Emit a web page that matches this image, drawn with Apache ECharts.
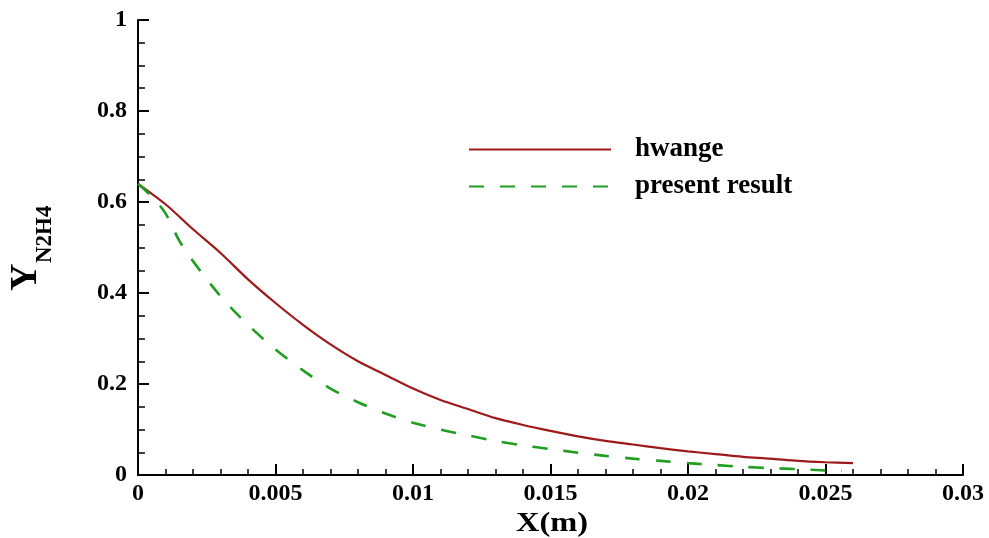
<!DOCTYPE html>
<html>
<head>
<meta charset="utf-8">
<script src="https://cdn.jsdelivr.net/npm/echarts@6/dist/echarts.min.js"></script>
<style>html,body{margin:0;padding:0;background:#fff}#c{width:989px;height:538px}</style>
</head>
<body>
<div id="c"></div>
<script>
var xHwange = [0, 0.001, 0.002, 0.003, 0.004, 0.005, 0.006, 0.007, 0.008, 0.009, 0.010, 0.011, 0.012, 0.013, 0.014, 0.015, 0.016, 0.017, 0.018, 0.019, 0.020, 0.021, 0.022, 0.023, 0.024, 0.025, 0.026];
var yHwange = [0.64, 0.595, 0.54, 0.488, 0.43, 0.378, 0.33, 0.287, 0.25, 0.22, 0.19, 0.165, 0.145, 0.125, 0.11, 0.097, 0.085, 0.075, 0.067, 0.059, 0.052, 0.046, 0.040, 0.036, 0.031, 0.028, 0.026];
var xPresent = [0, 0.0005, 0.001, 0.0015, 0.002, 0.003, 0.004, 0.005, 0.006, 0.007, 0.008, 0.009, 0.010, 0.011, 0.012, 0.013, 0.014, 0.015, 0.016, 0.017, 0.018, 0.019, 0.020, 0.021, 0.022, 0.023, 0.024, 0.025, 0.0256];
var yPresent = [0.64, 0.612, 0.575, 0.515, 0.47, 0.393, 0.33, 0.276, 0.23, 0.19, 0.16, 0.135, 0.115, 0.1, 0.087, 0.075, 0.065, 0.057, 0.049, 0.042, 0.036, 0.031, 0.026, 0.022, 0.018, 0.015, 0.013, 0.010, 0.009];
var seriesNames = ['hwange', 'present result'];
var xTickLabels = ['0', '0.005', '0.01', '0.015', '0.02', '0.025', '0.03'];
var yTickLabels = ['0', '0.2', '0.4', '0.6', '0.8', '1'];

function pairs(xs, ys) { return xs.map(function (x, i) { return [x, ys[i]]; }); }

var font = 'Liberation Serif';
var chart = echarts.init(document.getElementById('c'), null, { renderer: 'canvas' });
chart.setOption({
  animation: false,
  backgroundColor: '#ffffff',
  grid: { left: 138, right: 26, top: 20, bottom: 63, containLabel: false },
  legend: {
    left: 468, top: 136, orient: 'vertical', padding: 0,
    itemWidth: 142, itemHeight: 24, itemGap: 10,
    itemStyle: { opacity: 0, color: 'rgba(0,0,0,0)', borderWidth: 0 },
    textStyle: { fontFamily: font, fontWeight: 'bold', fontSize: 27, color: '#000', lineHeight: 24, height: 24, padding: [0, 0, 0, 19] },
    data: seriesNames
  },
  xAxis: {
    type: 'value', min: 0, max: 0.03, interval: 0.005,
    axisLine: { show: true, lineStyle: { color: '#000', width: 2 } },
    axisTick: { show: true, inside: true, length: 11, lineStyle: { color: '#000', width: 2 } },
    minorTick: { show: true, splitNumber: 5, length: 6, lineStyle: { color: '#000', width: 1.5 } },
    splitLine: { show: false },
    axisLabel: {
      margin: 7, fontFamily: font, fontWeight: 'bold', fontSize: 24, color: '#000',
      formatter: function (v) { return xTickLabels[Math.round(v / 0.005)]; }
    }
  },
  yAxis: {
    type: 'value', min: 0, max: 1, interval: 0.2,
    axisLine: { show: true, lineStyle: { color: '#000', width: 2 } },
    axisTick: { show: true, inside: true, length: 11, lineStyle: { color: '#000', width: 2 } },
    minorTick: { show: true, splitNumber: 4, length: 7, lineStyle: { color: '#000', width: 1.5 } },
    splitLine: { show: false },
    axisLabel: {
      margin: 11, fontFamily: font, fontWeight: 'bold', fontSize: 24, color: '#000',
      formatter: function (v) { return yTickLabels[Math.round(v / 0.2)]; }
    }
  },
  graphic: [
    {
      type: 'text', x: 552, y: 524, scaleX: 1.2,
      style: { text: 'X(m)', fontFamily: font, fontWeight: 'bold', fontSize: 27, fill: '#000', align: 'center', verticalAlign: 'middle' }
    },
    {
      type: 'text', x: 45, y: 291, rotation: Math.PI / 2,
      style: { text: 'Y', fontFamily: font, fontWeight: 'bold', fontSize: 38, lineHeight: 38, fill: '#000', align: 'left', verticalAlign: 'bottom' }
    },
    {
      type: 'text', x: 57, y: 263, rotation: Math.PI / 2,
      style: { text: 'N2H4', fontFamily: font, fontWeight: 'bold', fontSize: 23, lineHeight: 23, fill: '#000', align: 'left', verticalAlign: 'bottom' }
    }
  ],
  series: [
    {
      name: seriesNames[0], type: 'line', data: pairs(xHwange, yHwange), smooth: 0.3,
      symbol: 'none', lineStyle: { color: '#9e1a1a', width: 2.2 }, itemStyle: { color: '#9e1a1a' }
    },
    {
      name: seriesNames[1], type: 'line', data: pairs(xPresent, yPresent), smooth: 0.3,
      symbol: 'none', lineStyle: { color: '#1f9e1f', width: 2.6, type: [15, 16] }, itemStyle: { color: '#1f9e1f' }
    }
  ]
});
</script>
</body>
</html>
